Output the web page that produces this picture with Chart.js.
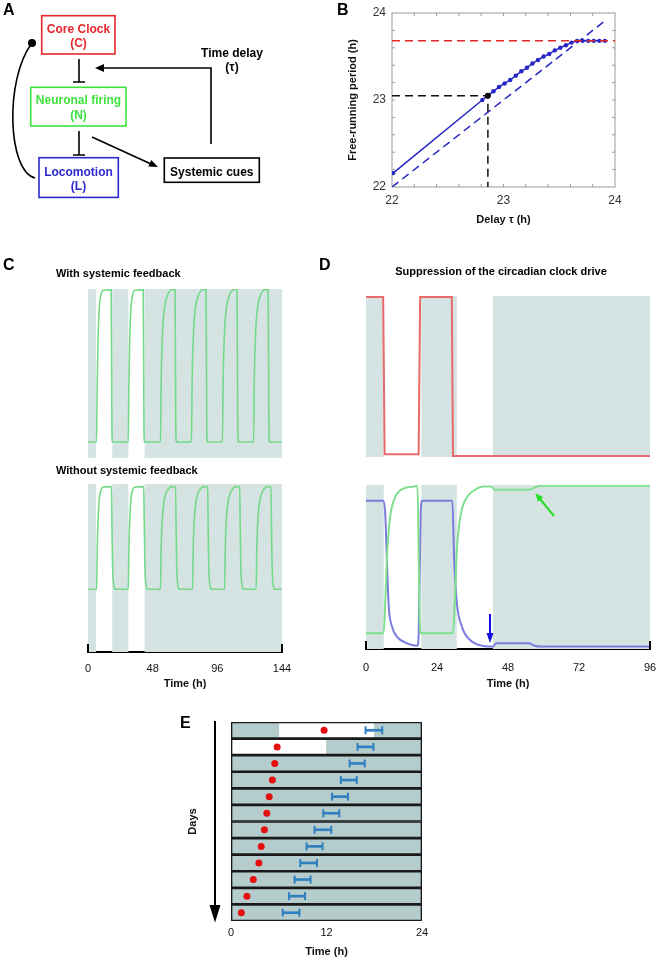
<!DOCTYPE html>
<html lang="en">
  <head>
    <meta charset="UTF-8" />
    <title>Circadian clock model</title>
    <script src="https://cdn.jsdelivr.net/npm/chart.js"></script>
    <style>
      body { margin: 0; background: #fff; }
      #figure { position: relative; width: 661px; height: 960px; overflow: hidden; }
      #figure canvas { position: absolute; }
      #overlay { position: absolute; left: 0; top: 0; }
    </style>
  </head>
  <body>
    <div id="figure">
      <canvas id="chartB" width="310" height="235" style="left:330px;top:0px"></canvas>
      <canvas id="chartC1" width="194" height="169" style="left:88px;top:289px"></canvas>
      <canvas id="chartC2" width="240" height="210" style="left:60px;top:484px"></canvas>
      <canvas id="chartD1" width="284" height="161" style="left:366px;top:296px"></canvas>
      <canvas id="chartD2" width="320" height="209" style="left:340px;top:485px"></canvas>
      <canvas id="chartE" width="260" height="245" style="left:180px;top:715px"></canvas>

      <svg id="overlay" width="661" height="960" font-family='"Liberation Sans", Arial, sans-serif' font-weight="bold">
        <!-- panel letters and titles -->
        <text x="3" y="15" font-size="16">A</text>
        <text x="337" y="15" font-size="16">B</text>
        <text x="3" y="270" font-size="16">C</text>
        <text x="319" y="270" font-size="16">D</text>
        <text x="180" y="728" font-size="16">E</text>
        <text x="56" y="277" font-size="11">With systemic feedback</text>
        <text x="56" y="474" font-size="11">Without systemic feedback</text>
        <text x="501" y="275" font-size="11" text-anchor="middle">Suppression of the circadian clock drive</text>

        <!-- panel A: model scheme -->
        <g font-size="12" text-anchor="middle">
          <rect x="41.7" y="15.7" width="73.3" height="38.3" fill="none" stroke="#e8262c" stroke-width="1.6" />
          <text x="78.5" y="32.5" fill="#e8262c">Core Clock</text>
          <text x="78.5" y="47" fill="#e8262c">(C)</text>
          <rect x="30.7" y="87.3" width="95.3" height="38.7" fill="none" stroke="#3ee23e" stroke-width="1.6" />
          <text x="78.5" y="103.5" fill="#3ee23e">Neuronal firing</text>
          <text x="78.5" y="119" fill="#3ee23e">(N)</text>
          <rect x="39" y="157.7" width="79.3" height="39.7" fill="none" stroke="#2a2ad2" stroke-width="1.6" />
          <text x="78.5" y="175.5" fill="#2a2ad2">Locomotion</text>
          <text x="78.5" y="190" fill="#2a2ad2">(L)</text>
          <rect x="164.3" y="158" width="95" height="24.3" fill="none" stroke="#000" stroke-width="1.6" />
          <text x="211.8" y="175.5" fill="#000">Systemic cues</text>
          <text x="232" y="57" fill="#000">Time delay</text>
          <text x="232" y="71" fill="#000">(τ)</text>
        </g>
        <g stroke="#000" stroke-width="1.6" fill="none">
          <path d="M79 59 V82 M73 82 H85" />
          <path d="M79 131 V155 M73 155 H85" />
          <path d="M92 137 L151 164" />
          <path d="M211 144 V68 H102" />
          <path d="M35 178 C8 172 4 80 32 43" />
        </g>
        <polygon points="158,167 148.3,166.5 151.3,160.1" fill="#000" />
        <polygon points="95,68 104,64 104,72" fill="#000" />
        <circle cx="32" cy="43" r="4" fill="#000" />

        <!-- panel D arrows -->
        <line x1="554" y1="516" x2="540" y2="499" stroke="#22dd22" stroke-width="2" />
        <polygon points="535.5,493.3 543.2,497.3 537.8,501.7" fill="#22dd22" />
        <line x1="490" y1="614" x2="490" y2="634" stroke="#1010e0" stroke-width="2" />
        <polygon points="490,643 486.5,633 493.5,633" fill="#1010e0" />

        <!-- panel E days arrow -->
        <line x1="215" y1="721" x2="215" y2="906" stroke="#000" stroke-width="2" />
        <polygon points="209.5,905 220.5,905 215,922.5" fill="#000" />
      </svg>
    </div>

    <script>
      // ---- B: free-running period vs delay ----
      const bDelay = [22.01, 22.81, 22.86, 22.91, 22.96, 23.01, 23.06, 23.11, 23.16, 23.21, 23.26, 23.31,
        23.36, 23.41, 23.46, 23.51, 23.56, 23.61, 23.66, 23.71, 23.76, 23.81, 23.86, 23.91];
      const bPeriod = [22.16, 23.0, 23.05, 23.10, 23.15, 23.19, 23.23, 23.28, 23.33, 23.37, 23.42, 23.46,
        23.50, 23.53, 23.57, 23.60, 23.63, 23.66, 23.68, 23.68, 23.68, 23.68, 23.68, 23.68];
      const bPlateau = 23.68;
      const bMarkedDelay = 22.86;
      const bMarkedPeriod = 23.05;
      const bDiagonal = [22, 23.9];
      const bTicks = [22, 23, 24];

      // ---- C: neuronal firing, with / without systemic feedback ----
      const cDarkFrom = [0, 18, 42];
      const cDarkTo = [6, 30, 144];
      const cTimeWith = [
        0, 6.3, 6.8, 7.4, 8.3, 9.5, 11.0, 17.2, 17.5, 17.8, 18.3,
        29.9, 30.3, 30.9, 31.8, 33.0, 34.5, 41.0, 41.3, 41.6, 42.1,
        53.8, 54.3, 55.0, 56.0, 57.5, 59.3, 61.8, 64.6, 64.9, 65.2, 65.7,
        76.8, 77.3, 78.0, 79.0, 80.5, 82.3, 84.8, 87.6, 87.9, 88.2, 88.7,
        99.8, 100.3, 101.0, 102.0, 103.5, 105.3, 107.8, 110.6, 110.9, 111.2, 111.7,
        122.9, 123.4, 124.1, 125.1, 126.6, 128.4, 130.9, 133.7, 134.0, 134.3, 134.8,
        144];
      const cFiringWith = [
        0, 0, 0.35, 0.65, 0.87, 0.96, 0.995, 1, 0.55, 0.06, 0,
        0, 0.35, 0.65, 0.87, 0.96, 0.995, 1, 0.55, 0.06, 0,
        0, 0.4, 0.65, 0.82, 0.92, 0.97, 1, 1, 0.55, 0.06, 0,
        0, 0.4, 0.65, 0.82, 0.92, 0.97, 1, 1, 0.55, 0.06, 0,
        0, 0.4, 0.65, 0.82, 0.92, 0.97, 1, 1, 0.55, 0.06, 0,
        0, 0.4, 0.65, 0.82, 0.92, 0.97, 1, 1, 0.55, 0.06, 0,
        0];
      const cTimeWithout = [
        0, 6.4, 6.8, 7.4, 8.3, 9.5, 11.0, 17.4, 17.8, 18.2, 18.7, 19.4, 20.4,
        29.9, 30.3, 30.9, 31.8, 33.0, 34.5, 41.4, 41.8, 42.2, 42.7, 43.4, 44.4,
        53.8, 54.3, 55.0, 56.0, 57.5, 59.3, 61.8, 65.0, 65.4, 65.8, 66.3, 67.0, 68.0,
        77.6, 78.1, 78.8, 79.8, 81.3, 83.1, 85.6, 88.8, 89.2, 89.6, 90.1, 90.8, 91.8,
        101.4, 101.9, 102.6, 103.6, 105.1, 106.9, 109.4, 112.6, 113.0, 113.4, 113.9, 114.6, 115.6,
        124.8, 125.3, 126.0, 127.0, 128.5, 130.3, 132.8, 135.8, 136.2, 136.6, 137.1, 137.8, 138.8,
        144];
      const cFiringWithout = [
        0, 0, 0.35, 0.65, 0.87, 0.96, 0.995, 1, 0.6, 0.25, 0.09, 0.02, 0,
        0, 0.35, 0.65, 0.87, 0.96, 0.995, 1, 0.6, 0.25, 0.09, 0.02, 0,
        0, 0.4, 0.65, 0.82, 0.92, 0.97, 1, 1, 0.6, 0.25, 0.09, 0.02, 0,
        0, 0.4, 0.65, 0.82, 0.92, 0.97, 1, 1, 0.6, 0.25, 0.09, 0.02, 0,
        0, 0.4, 0.65, 0.82, 0.92, 0.97, 1, 1, 0.6, 0.25, 0.09, 0.02, 0,
        0, 0.4, 0.65, 0.82, 0.92, 0.97, 1, 1, 0.6, 0.25, 0.09, 0.02, 0,
        0];
      const cTicks = [0, 48, 96, 144];

      // ---- D: suppression of the clock drive ----
      const dDarkFrom = [0, 18.7, 42.9];
      const dDarkTo = [6, 30.7, 96];
      const dTimeClock = [0, 5.8, 6.3, 17.8, 18.3, 29.0, 29.4, 96];
      const dClock = [1, 1, 0.012, 0.012, 1, 1, 0, 0];
      const dTimeFiring = [0, 5.97, 6.5, 7.2, 8.1, 9.6, 12.2, 16.0, 17.4, 17.8, 18.2, 18.6,
        29.4, 30.0, 30.7, 31.8, 33.8, 36.4, 39.7, 42.5, 43.5, 55.0, 57.0, 59.0, 96];
      const dFiring = [0.092, 0.092, 0.28, 0.6, 0.8, 0.92, 0.98, 0.995, 1.0, 0.6, 0.15, 0.092,
        0.092, 0.28, 0.6, 0.8, 0.92, 0.97, 0.996, 0.995, 0.975, 0.975, 0.99, 1.0, 1.0];
      const dTimeLoco = [0, 5.9, 6.5, 7.1, 7.7, 8.8, 10.5, 13.9, 17.4, 17.7, 18.2, 18.6, 19.0,
        29.2, 29.8, 30.7, 32.4, 35.2, 39.7, 42.9, 44.0, 55.0, 57.0, 59.0, 96];
      const dLoco = [0.908, 0.908, 0.827, 0.52, 0.255, 0.132, 0.07, 0.03, 0.015, 0.04, 0.5, 0.88, 0.908,
        0.908, 0.54, 0.28, 0.133, 0.05, 0.014, 0.01, 0.03, 0.03, 0.015, 0.01, 0.01];
      const dTicks = [0, 24, 48, 72, 96];

      // ---- E: actogram ----
      const eDays = [1, 2, 3, 4, 5, 6, 7, 8, 9, 10, 11, 12];
      const eDarkStart = [0, 12, 0, 0, 0, 0, 0, 0, 0, 0, 0, 0];
      const eDarkEnd = [6, 24, 24, 24, 24, 24, 24, 24, 24, 24, 24, 24];
      const eLateDark = [18, 24];
      const eClockPhase = [11.7, 5.8, 5.5, 5.2, 4.8, 4.5, 4.2, 3.8, 3.5, 2.8, 2.0, 1.3];
      const eActStart = [16.9, 15.9, 14.9, 13.8, 12.7, 11.6, 10.5, 9.5, 8.7, 8.0, 7.3, 6.5];
      const eActEnd = [19.0, 17.9, 16.8, 15.8, 14.7, 13.6, 12.6, 11.5, 10.8, 10.0, 9.3, 8.6];
      const eTicks = [0, 12, 24];

      Chart.defaults.font.family = '"Liberation Sans", Arial, sans-serif';
      Chart.defaults.color = '#111';
      Chart.defaults.animation = false;
      Chart.defaults.plugins.legend.display = false;
      Chart.defaults.plugins.tooltip.enabled = false;

      const SHADE = '#d6e3e3';
      const GREEN = '#74da88';
      const pts = (xs, ys) => xs.map((x, i) => ({ x: x, y: ys[i] }));
      const boldTitle = { size: 11, weight: 'bold' };
      const noGrid = { display: false, drawTicks: false };

      // fixed axis size, and no extra room for the end labels
      const fixHeight = (h) => (s) => { s.height = h; s.paddingLeft = 0; s.paddingRight = 0; };
      const fixWidth = (w) => (s) => { s.width = w; s.paddingTop = 0; s.paddingBottom = 0; };

      // grey day/night background bands, drawn through the x scale
      function bands(from, to, color) {
        return {
          id: 'bands',
          beforeDatasetsDraw(chart) {
            const { ctx, chartArea, scales } = chart;
            ctx.save();
            ctx.fillStyle = color;
            from.forEach((start, i) => {
              const x0 = scales.x.getPixelForValue(start);
              const x1 = scales.x.getPixelForValue(to[i]);
              ctx.fillRect(x0, chartArea.top, x1 - x0, chartArea.bottom - chartArea.top);
            });
            ctx.restore();
          }
        };
      }

      // upward end ticks on the time axis (bracket look)
      const bracket = {
        id: 'bracket',
        afterDraw(chart) {
          const { ctx, chartArea, scales: { x } } = chart;
          ctx.save();
          ctx.strokeStyle = '#000';
          ctx.lineWidth = 2;
          ctx.beginPath();
          [x.min, x.max].forEach((v) => {
            const px = x.getPixelForValue(v);
            ctx.moveTo(px, chartArea.bottom + 1);
            ctx.lineTo(px, chartArea.bottom - 8);
          });
          ctx.stroke();
          ctx.restore();
        }
      };

      // grey box with small inward ticks for panel B
      const frame = {
        id: 'frame',
        beforeDatasetsDraw(chart) {
          const { ctx, chartArea: a, scales: { x, y } } = chart;
          ctx.save();
          ctx.strokeStyle = '#9a9a9a';
          ctx.lineWidth = 1;
          ctx.strokeRect(a.left, a.top, a.width, a.height);
          ctx.beginPath();
          for (let v = 22.2; v < 23.95; v += 0.2) {
            const px = x.getPixelForValue(v);
            const py = y.getPixelForValue(v);
            ctx.moveTo(px, a.bottom); ctx.lineTo(px, a.bottom - 3);
            ctx.moveTo(px, a.top); ctx.lineTo(px, a.top + 3);
            ctx.moveTo(a.left, py); ctx.lineTo(a.left + 3, py);
            ctx.moveTo(a.right, py); ctx.lineTo(a.right - 3, py);
          }
          ctx.stroke();
          ctx.restore();
        }
      };

      const BLUE_B = '#2626c8';
      new Chart(document.getElementById('chartB'), {
        type: 'line',
        data: {
          datasets: [
            { data: [{ x: 22, y: bPlateau }, { x: 24, y: bPlateau }], borderColor: '#e02828', borderWidth: 1.5, borderDash: [8, 5], pointRadius: 0 },
            { data: [{ x: 22, y: bMarkedPeriod }, { x: bMarkedDelay, y: bMarkedPeriod }, { x: bMarkedDelay, y: 22 }], borderColor: '#111', borderWidth: 1.5, borderDash: [8, 5], pointRadius: 0 },
            { data: [{ x: bMarkedDelay, y: bMarkedPeriod }], showLine: false, pointRadius: 3, backgroundColor: '#000', borderWidth: 0 },
            { data: pts(bDelay, bPeriod), borderColor: BLUE_B, borderWidth: 1.5, pointRadius: 2.2, backgroundColor: BLUE_B, pointBorderWidth: 0 },
            { data: [{ x: bDiagonal[0], y: bDiagonal[0] }, { x: bDiagonal[1], y: bDiagonal[1] }], borderColor: BLUE_B, borderWidth: 1.5, borderDash: [8, 5], pointRadius: 0 }
          ]
        },
        options: {
          responsive: false,
          layout: { padding: { left: 0, top: 13, right: 25, bottom: 0 } },
          scales: {
            x: {
              type: 'linear', min: 22, max: 24,
              afterBuildTicks: (s) => { s.ticks = bTicks.map((v) => ({ value: v })); },
              afterFit: fixHeight(48),
              ticks: { padding: 6, font: { size: 12 }, color: '#333', maxRotation: 0 },
              grid: noGrid, border: { display: false },
              title: { display: true, text: 'Delay τ (h)', font: boldTitle, padding: { top: 0, bottom: 8.4 } }
            },
            y: {
              type: 'linear', min: 22, max: 24,
              afterBuildTicks: (s) => { s.ticks = bTicks.map((v) => ({ value: v })); },
              afterFit: fixWidth(62),
              ticks: { padding: 6, font: { size: 12 }, color: '#333' },
              grid: noGrid, border: { display: false },
              title: { display: true, text: 'Free-running period (h)', font: boldTitle, padding: { top: 16.4, bottom: 0 } }
            }
          }
        },
        plugins: [frame]
      });

      const curve = (xs, ys, color, width, smooth) => ({
        data: pts(xs, ys), borderColor: color, borderWidth: width, pointRadius: 0,
        cubicInterpolationMode: smooth ? 'monotone' : 'default', tension: 0
      });

      const timeAxis = (max, ticks, tickPad, height) => ({
        type: 'linear', min: 0, max: max,
        afterBuildTicks: (s) => { s.ticks = ticks.map((v) => ({ value: v })); },
        afterFit: fixHeight(height),
        ticks: { padding: tickPad, font: { size: 11 }, maxRotation: 0 },
        grid: noGrid,
        border: { display: true, color: '#000', width: 2 },
        title: { display: true, text: 'Time (h)', font: boldTitle, padding: { top: 0, bottom: 3.4 } }
      });

      new Chart(document.getElementById('chartC1'), {
        type: 'line',
        data: { datasets: [curve(cTimeWith, cFiringWith, GREEN, 1.6, true)] },
        options: {
          responsive: false,
          scales: {
            x: { type: 'linear', min: 0, max: 144, display: false },
            y: { min: -0.105, max: 1.005, display: false }
          }
        },
        plugins: [bands(cDarkFrom, cDarkTo, SHADE)]
      });

      new Chart(document.getElementById('chartC2'), {
        type: 'line',
        data: { datasets: [curve(cTimeWithout, cFiringWithout, GREEN, 1.6, true)] },
        options: {
          responsive: false,
          layout: { padding: { left: 28, right: 18, top: 0, bottom: 0 } },
          scales: {
            x: timeAxis(144, cTicks, 10.4, 42),
            y: { min: -0.611, max: 1.026, display: false }
          }
        },
        plugins: [bands(cDarkFrom, cDarkTo, SHADE), bracket]
      });

      new Chart(document.getElementById('chartD1'), {
        type: 'line',
        data: { datasets: [curve(dTimeClock, dClock, '#e86a6a', 2, false)] },
        options: {
          responsive: false,
          scales: {
            x: { type: 'linear', min: 0, max: 96, display: false },
            y: { min: -0.006, max: 1.006, display: false }
          }
        },
        plugins: [bands(dDarkFrom, dDarkTo, SHADE)]
      });

      new Chart(document.getElementById('chartD2'), {
        type: 'line',
        data: {
          datasets: [
            curve(dTimeFiring, dFiring, '#7ee08e', 2, true),
            curve(dTimeLoco, dLoco, '#7c7cdc', 2, true)
          ]
        },
        options: {
          responsive: false,
          layout: { padding: { left: 26, right: 10, top: 0, bottom: 0 } },
          scales: {
            x: timeAxis(96, dTicks, 12.4, 45),
            y: { min: -0.005, max: 1.005, display: false }
          }
        },
        plugins: [bands(dDarkFrom, dDarkTo, SHADE), bracket]
      });

      // ---- E ----
      const ROW = 199 / 12;
      const E_BLUE = '#2f7fc1';
      const E_SHADE = '#b5cccc';
      const caps = [];
      eDays.forEach((d, i) => {
        caps.push({ x: eActStart[i], y: d });
        caps.push({ x: eActEnd[i], y: d });
      });
      new Chart(document.getElementById('chartE'), {
        type: 'bar',
        data: {
          datasets: [
            { type: 'line', indexAxis: 'x', data: caps, showLine: false, pointStyle: 'line', rotation: 90, pointRadius: 4, borderColor: E_BLUE, borderWidth: 2 },
            { type: 'line', indexAxis: 'x', data: pts(eClockPhase, eDays), showLine: false, pointRadius: 3.5, backgroundColor: '#e41010', borderWidth: 0 },
            { indexAxis: 'y', grouped: false, data: eDays.map((d, i) => ({ y: d, x: [eActStart[i], eActEnd[i]] })), backgroundColor: E_BLUE, barThickness: 2, borderWidth: 0 },
            { indexAxis: 'y', grouped: false, data: eDays.map((d) => ({ y: d, x: [0, 24] })), backgroundColor: 'rgba(0,0,0,0)', borderColor: '#1a1a1a', borderWidth: 1, borderSkipped: false, barThickness: ROW },
            { indexAxis: 'y', grouped: false, data: eDays.map((d, i) => ({ y: d, x: [eDarkStart[i], eDarkEnd[i]] })), backgroundColor: E_SHADE, borderWidth: 0, barThickness: ROW },
            { indexAxis: 'y', grouped: false, data: [{ y: eDays[0], x: eLateDark }], backgroundColor: E_SHADE, borderWidth: 0, barThickness: ROW }
          ]
        },
        options: {
          responsive: false,
          indexAxis: 'y',
          layout: { padding: { left: 0, top: 7, right: 18, bottom: 0 } },
          scales: {
            x: {
              type: 'linear', min: 0, max: 24, offset: false,
              afterBuildTicks: (s) => { s.ticks = eTicks.map((v) => ({ value: v })); },
              afterFit: fixHeight(39),
              ticks: { padding: 5.7, font: { size: 11 }, maxRotation: 0 },
              grid: noGrid, border: { display: false },
              title: { display: true, text: 'Time (h)', font: boldTitle, padding: { top: 0, bottom: 1.4 } }
            },
            y: {
              type: 'linear', min: 0.5, max: 12.5, reverse: true, offset: false,
              afterFit: fixWidth(51),
              ticks: { display: false },
              grid: noGrid, border: { display: false },
              title: { display: true, text: 'Days', font: boldTitle, padding: { top: 6.4, bottom: 0 } }
            }
          }
        }
      });
    </script>
  </body>
</html>
